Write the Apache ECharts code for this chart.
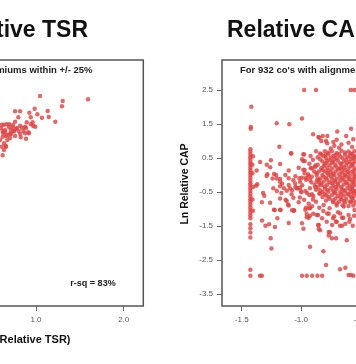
<!DOCTYPE html>
<html><head><meta charset="utf-8">
<script src="https://cdn.jsdelivr.net/npm/echarts/dist/echarts.min.js"></script>
<style>html,body{margin:0;padding:0;background:#fff}#c{width:356px;height:364px}</style>
</head><body><div id="c"></div>
<script>
// Left panel: Ln(Relative TSR) vs hidden y (same log-units as right panel)
const tsrXTicks = [0.0, 1.0, 2.0];
const tsrPoints = [
 [1.046,2.324],[1.593,2.226],[1.304,2.176],[1.296,2.021],[0.985,1.95],[0.761,1.874],[0.818,1.874],
 [1.133,1.882],[0.924,1.832],[1.015,1.785],[1.068,1.685],[1.145,1.706],[0.940,1.697],[0.798,1.697],
 [1.220,1.568],[0.761,1.568],[0.894,1.55],[0.962,1.55],[0.969,1.441],[0.94,1.491],[0.840,1.391],
 [0.886,1.382],[0.992,1.421],[0.734,1.403],[0.609,1.479],[0.635,1.479],[0.666,1.491],[0.696,1.491],
 [0.712,1.324],[0.749,1.285],[0.818,1.206],[0.875,1.226],[0.920,1.226],[0.826,1.109],[0.886,1.068],
 [0.658,1.147],[0.620,1.126],[0.673,1.029],[0.635,0.932],[0.609,0.832],[0.658,0.832],[0.620,0.579],
 [0.601,1.382],[0.647,1.324],[0.692,1.412],[0.624,1.235],[0.715,1.206],[0.761,1.147],[0.783,1.382],
 [0.738,1.471],[0.59,1.03],[0.704,1.088],[0.635,0.735],[0.654,0.862],[0.875,1.421],[0.818,1.45],
 [0.855,1.294],[0.912,1.256],[0.620,1.294],[0.647,1.256],[0.673,1.176],[0.704,1.215],[0.741,1.294],
 [0.772,1.353],[0.803,1.294]
];
// Right panel: Ln Relative CAP
const capXTicks = [-1.5, -1.0, -0.5, 0.0, 0.5];
const capYTicks = [2.5, 1.5, 0.5, -0.5, -1.5, -2.5, -3.5];
const capOutliers = [
 [-0.974,2.5],[-0.874,2.5],[-0.582,2.5],[-0.552,2.5],
 [-1.419,2.01],[-1.424,1.41],[-1.424,1.36],[-1.205,1.52],[-1.099,1.49],[-0.992,1.66],[-0.579,1.36],
 [-0.899,1.20],[-0.854,1.12],[-0.779,1.15],[-0.695,1.28],[-0.830,1.00],[-0.728,0.97],[-0.700,1.04],
 [-1.183,0.83],[-0.874,0.70],[-1.085,0.63],[-0.975,0.60],[-0.992,0.46],[-0.981,0.41],
 [-0.846,1.098],[-0.790,1.0],[-0.818,1.147],[-0.78,0.93],[-0.72,0.86],[-0.66,0.90],[-0.60,0.95],
 [-0.56,1.05],[-0.62,1.15],[-0.57,0.82],[-0.68,0.80],[-0.75,0.78]
];
const capColumn = [
 [-1.427,0.76],[-1.427,0.68],[-1.427,0.60],[-1.427,0.52],[-1.427,0.45],[-1.427,0.37],[-1.427,0.30],
 [-1.427,0.22],[-1.427,0.15],[-1.427,0.07],[-1.427,0.0],[-1.427,-0.08],[-1.427,-0.16],[-1.427,-0.24],
 [-1.427,-0.31],[-1.427,-0.39],[-1.427,-0.47],[-1.427,-0.55],[-1.427,-0.63],[-1.427,-0.71],[-1.427,-0.79],
 [-1.427,-0.87],[-1.427,-0.95],[-1.427,-1.03],[-1.427,-1.11],[-1.427,-1.19],[-1.427,-1.27],[-1.427,-1.45],
 [-1.427,-1.57],[-1.427,-1.69],[-1.427,-1.84],[-1.427,-2.79],[-1.427,-2.96],
 [-1.405,0.55],[-1.41,0.05],[-1.405,-0.35],[-1.41,-0.72],[-1.405,-1.05],[-1.41,0.3]
];
const capScatter = [
 [-1.345,0.38],[-1.289,0.30],[-1.254,0.43],[-1.177,0.32],[-1.26,0.23],[-1.374,0.13],[-1.284,0.02],
 [-1.21,0.0],[-1.104,0.13],[-0.97,0.15],[-0.919,0.2],[-0.868,0.0],[-1.082,0.64],[-0.84,0.63],[-0.795,0.59],
 [-1.33,-0.80],[-1.32,-0.53],[-1.31,-0.61],[-1.26,-0.82],[-1.177,-0.69],[-1.13,-0.73],[-1.205,-0.47],
 [-1.166,-0.53],[-1.234,-0.39],[-1.24,-0.10],[-1.205,-0.10],[-1.177,-0.20],[-1.16,-0.26],[-1.093,-0.39],
 [-1.048,-0.35],[-1.009,-0.37],[-1.104,-0.90],[-0.964,-1.02],[-0.930,-0.98],[-1.228,-1.02],[-1.177,-1.02],
 [-1.076,-1.04],[-0.952,-1.24],[-0.925,-1.20],[-1.20,-1.27],[-1.329,-1.34],[-1.30,-1.49],[-1.27,-1.45],
 [-1.22,-1.53],[-1.104,-1.41],[-0.98,-1.58],[-0.851,-1.47],[-0.851,-1.59],[-0.767,-1.68],[-0.767,-1.78],
 [-1.256,-1.86],[-0.74,-1.86],[-0.705,-1.86],[-0.615,-1.92],[-1.25,-2.16],[-0.925,-2.11],[-0.812,-2.24],
 [-0.79,-2.65],[-0.672,-2.77],[-0.627,-2.73],
 [-1.346,-2.96],[-1.33,-2.96],[-0.992,-2.96],[-0.952,-2.96],[-0.907,-2.96],[-0.862,-2.96],[-0.823,-2.96],
 [-0.60,-2.94],[-0.58,-2.94],[-0.56,-2.96],
 [-1.379,-0.32],[-1.369,-0.27],[-1.29,-0.03],[-1.228,0.03],[-1.172,-1.03],[-1.222,-1.03],[-1.11,-0.87],
 [-1.06,-1.05],[-0.992,-1.42],[-0.953,-1.15],[-0.925,-0.97],[-0.84,-0.54],
 [-1.177,-0.118],[-1.132,0.0],[-1.104,-0.098],[-1.065,-0.157],[-1.048,-0.039],[-1.009,-0.196],[-0.992,-0.078],
 [-0.958,-0.137],[-0.936,-0.039],[-0.913,-0.216],[-0.885,-0.294],[-0.863,-0.118],[-0.846,-0.235],
 [-1.177,-0.333],[-1.144,-0.392],[-1.104,-0.294],[-1.076,-0.451],[-1.037,-0.392],[-0.998,-0.51],
 [-0.964,-0.47],[-0.930,-0.588],[-0.897,-0.627],[-0.874,-0.431],[-0.846,-0.549],
 [-1.121,-0.764],[-1.065,-0.666],[-1.020,-0.804],[-0.975,-0.725],[-0.936,-0.843],[-0.908,-0.921],
 [-0.874,-0.784],[-0.846,-0.96],
 [-0.897,-1.137],[-0.857,-1.176],[-0.812,-1.058],[-0.767,-1.137],[-0.722,-1.215],[-0.689,-1.098],[-0.655,-1.254],
 [-0.784,-1.372],[-0.739,-1.47],[-0.700,-1.372],[-0.655,-1.49],[-0.627,-1.431],[-0.588,-1.294],[-0.554,-1.196],
 [-0.981,0.608],[-0.969,0.412],[-0.908,0.196],[-0.981,0.157],[-1.014,-0.098],[-0.958,-0.078],[-0.925,-0.137],
 [-1.031,-0.392],[-1.003,-0.47],[-0.925,-0.392],[-0.908,-0.568],[-1.059,-1.039],[-0.958,-0.96],[-0.936,-1.254],
 [-0.868,-1.176],[-0.823,-1.274],[-0.857,-1.47],[-0.840,-1.627],[-0.756,-1.686],[-0.706,-1.372],[-0.672,-1.49],
 [-0.644,-1.254],[-0.593,-1.372],[-0.565,-1.49],
 [-0.81,-0.88],[-0.76,-0.98],[-0.70,-0.84],[-0.64,-0.93],[-0.59,-0.78],[-0.55,-1.03],[-0.78,-1.13],
 [-0.67,-1.13],[-0.60,-1.18],[-0.73,-1.27],
 [-0.90,0.45],[-0.93,0.33],[-0.88,0.28],[-0.89,0.10],[-0.94,0.02],
 [-1.02,0.21],[-1.05,-0.25],[-0.99,-0.30],[-0.95,-0.53],[-1.08,-0.57],[-0.90,-0.72],[-0.97,0.05],
 [-0.91,-0.05],[-0.88,-0.36],[-0.86,0.52],[-0.92,0.56],[-1.12,-0.46],[-1.01,-0.66]
];
const capCluster = [
 [-0.80,0.70],[-0.74,0.70],[-0.66,0.71],[-0.60,0.69],[-0.55,0.70],
 [-0.83,0.60],[-0.77,0.61],[-0.71,0.59],[-0.68,0.62],[-0.63,0.60],[-0.57,0.61],
 [-0.79,0.50],[-0.75,0.51],[-0.70,0.49],[-0.65,0.50],[-0.61,0.52],[-0.56,0.49],[-0.54,0.54],
 [-0.82,0.40],[-0.78,0.41],[-0.73,0.39],[-0.69,0.42],[-0.64,0.40],[-0.59,0.38],[-0.55,0.41],
 [-0.86,0.30],[-0.80,0.31],[-0.76,0.29],[-0.71,0.30],[-0.66,0.32],[-0.62,0.29],[-0.57,0.30],
 [-0.83,0.20],[-0.78,0.21],[-0.74,0.19],[-0.68,0.20],[-0.64,0.22],[-0.60,0.19],[-0.55,0.20],
 [-0.85,0.10],[-0.80,0.11],[-0.75,0.09],[-0.71,0.10],[-0.66,0.12],[-0.61,0.09],[-0.57,0.10],
 [-0.82,0.0],[-0.77,0.01],[-0.72,-0.01],[-0.68,0.02],[-0.63,0.0],[-0.59,-0.02],[-0.54,0.0],
 [-0.84,-0.10],[-0.79,-0.09],[-0.74,-0.11],[-0.70,-0.10],[-0.65,-0.08],[-0.60,-0.11],[-0.56,-0.10],
 [-0.87,-0.20],[-0.81,-0.19],[-0.76,-0.21],[-0.71,-0.20],[-0.67,-0.18],[-0.62,-0.21],[-0.57,-0.20],
 [-0.83,-0.30],[-0.78,-0.29],[-0.73,-0.31],[-0.69,-0.30],[-0.64,-0.28],[-0.59,-0.31],[-0.55,-0.30],
 [-0.80,-0.40],[-0.75,-0.39],[-0.70,-0.41],[-0.66,-0.40],[-0.61,-0.38],[-0.57,-0.41],
 [-0.82,-0.50],[-0.77,-0.49],[-0.72,-0.51],[-0.67,-0.50],[-0.63,-0.48],[-0.58,-0.51],[-0.54,-0.50],
 [-0.79,-0.60],[-0.74,-0.59],[-0.69,-0.61],[-0.64,-0.60],[-0.60,-0.58],[-0.55,-0.61],
 [-0.76,-0.70],[-0.71,-0.69],[-0.66,-0.71],[-0.62,-0.70],[-0.57,-0.68],
 [-0.73,-0.80],[-0.68,-0.79],[-0.63,-0.81],[-0.58,-0.80],[-0.54,-0.82],
 [-0.70,-0.90],[-0.65,-0.89],[-0.60,-0.91],[-0.56,-0.90]
];
const capClusterFill = [
 [-0.77,0.66],[-0.70,0.64],[-0.63,0.66],[-0.58,0.63],
 [-0.81,0.55],[-0.73,0.56],[-0.67,0.54],[-0.59,0.57],[-0.55,0.55],
 [-0.84,0.46],[-0.76,0.44],[-0.72,0.46],[-0.62,0.45],[-0.58,0.47],
 [-0.79,0.35],[-0.74,0.36],[-0.67,0.34],[-0.61,0.36],[-0.56,0.33],
 [-0.88,0.24],[-0.81,0.26],[-0.71,0.25],[-0.66,0.23],[-0.58,0.26],
 [-0.82,0.15],[-0.77,0.14],[-0.69,0.16],[-0.63,0.15],[-0.55,0.13],
 [-0.87,0.05],[-0.78,0.06],[-0.73,0.04],[-0.65,0.05],[-0.60,0.07],[-0.56,0.04],
 [-0.81,-0.05],[-0.75,-0.04],[-0.67,-0.06],[-0.62,-0.04],[-0.55,-0.06],
 [-0.85,-0.15],[-0.78,-0.14],[-0.72,-0.16],[-0.64,-0.15],[-0.59,-0.13],[-0.54,-0.16],
 [-0.83,-0.25],[-0.74,-0.24],[-0.69,-0.26],[-0.61,-0.25],[-0.56,-0.23],
 [-0.86,-0.35],[-0.80,-0.34],[-0.71,-0.36],[-0.66,-0.35],[-0.57,-0.34],
 [-0.84,-0.45],[-0.78,-0.44],[-0.73,-0.46],[-0.64,-0.45],[-0.59,-0.43],[-0.55,-0.46],
 [-0.80,-0.55],[-0.71,-0.54],[-0.66,-0.56],[-0.61,-0.55],[-0.56,-0.53],
 [-0.82,-0.65],[-0.77,-0.64],[-0.67,-0.66],[-0.58,-0.64],
 [-0.79,-0.75],[-0.73,-0.74],[-0.64,-0.76],[-0.56,-0.74]
];

const FONT = '"Liberation Sans", Arial, sans-serif';
const RED = '#dd4242';
const BOX = '#555';
const chart = echarts.init(document.getElementById('c'), null, {renderer: 'canvas'});

function xAxisCfg(grid, min, max, ticks) {
  return {
    type: 'value', gridIndex: grid, min: min, max: max,
    axisLine: {show: false, onZero: false},
    splitLine: {show: false},
    axisTick: {show: true, length: 5, customValues: ticks, lineStyle: {color: '#666', width: 1}},
    axisLabel: {customValues: ticks, formatter: v => v.toFixed(1), fontSize: 8, color: '#555',
                fontFamily: FONT, margin: 10}
  };
}

chart.setOption({
  animation: false,
  backgroundColor: '#fff',
  grid: [
    {left: -110, top: 60, width: 253.3, height: 246, show: true, borderColor: BOX, borderWidth: 1.5,
     containLabel: false, outerBoundsMode: 'none'},
    {left: 222, top: 60, width: 260, height: 246, show: true, borderColor: BOX, borderWidth: 1.5,
     containLabel: false, outerBoundsMode: 'none'}
  ],
  xAxis: [
    xAxisCfg(0, -0.6648, 2.2235, tsrXTicks),
    xAxisCfg(1, -1.666, 0.524, capXTicks)
  ],
  yAxis: [
    {type: 'value', gridIndex: 0, min: -3.853, max: 3.382, show: false},
    {type: 'value', gridIndex: 1, min: -3.853, max: 3.382,
     axisLine: {show: false, onZero: false}, splitLine: {show: false},
     axisTick: {show: true, length: 5, customValues: capYTicks, lineStyle: {color: '#666', width: 1}},
     axisLabel: {customValues: capYTicks, formatter: v => v.toFixed(1), fontSize: 8, color: '#555',
                 fontFamily: FONT, margin: 9}}
  ],
  series: [
    {type: 'scatter', xAxisIndex: 0, yAxisIndex: 0, data: tsrPoints, symbolSize: 4.5,
     itemStyle: {color: RED}},
    {type: 'scatter', xAxisIndex: 1, yAxisIndex: 1,
     data: capOutliers.concat(capColumn, capScatter, capCluster, capClusterFill),
     symbolSize: 4.5, itemStyle: {color: RED}}
  ],
  graphic: [
    {type: 'text', x: 88, y: 31, style: {text: 'Relative TSR', font: 'bold 23px ' + FONT, fill: '#111',
      align: 'right', textAlign: 'right', verticalAlign: 'middle', textVerticalAlign: 'middle'}},
    {type: 'text', x: 227, y: 31, style: {text: 'Relative CAP', font: 'bold 23px ' + FONT, fill: '#111',
      align: 'left', textAlign: 'left', verticalAlign: 'middle', textVerticalAlign: 'middle'}},
    {type: 'text', x: 92.5, y: 70.5, style: {text: 'Premiums within +/- 25%', font: 'bold 9.5px ' + FONT, fill: '#222',
      align: 'right', textAlign: 'right', verticalAlign: 'middle', textVerticalAlign: 'middle'}},
    {type: 'text', x: 240, y: 70.5, style: {text: "For 932 co's with alignment", font: 'bold 9.5px ' + FONT, fill: '#222',
      align: 'left', textAlign: 'left', verticalAlign: 'middle', textVerticalAlign: 'middle'}},
    {type: 'text', x: 93, y: 284, style: {text: 'r-sq = 83%', font: 'bold 9px ' + FONT, fill: '#222',
      align: 'center', textAlign: 'center', verticalAlign: 'middle', textVerticalAlign: 'middle'}},
    {type: 'text', x: 70.5, y: 339.5, style: {text: 'Ln (Relative TSR)', font: 'bold 11px ' + FONT, fill: '#111',
      align: 'right', textAlign: 'right', verticalAlign: 'middle', textVerticalAlign: 'middle'}},
    {type: 'text', x: 185, y: 184, rotation: Math.PI / 2, style: {text: 'Ln Relative CAP', font: 'bold 10.5px ' + FONT,
      fill: '#111', align: 'center', textAlign: 'center', verticalAlign: 'middle', textVerticalAlign: 'middle'}}
  ]
});
</script></body></html>
